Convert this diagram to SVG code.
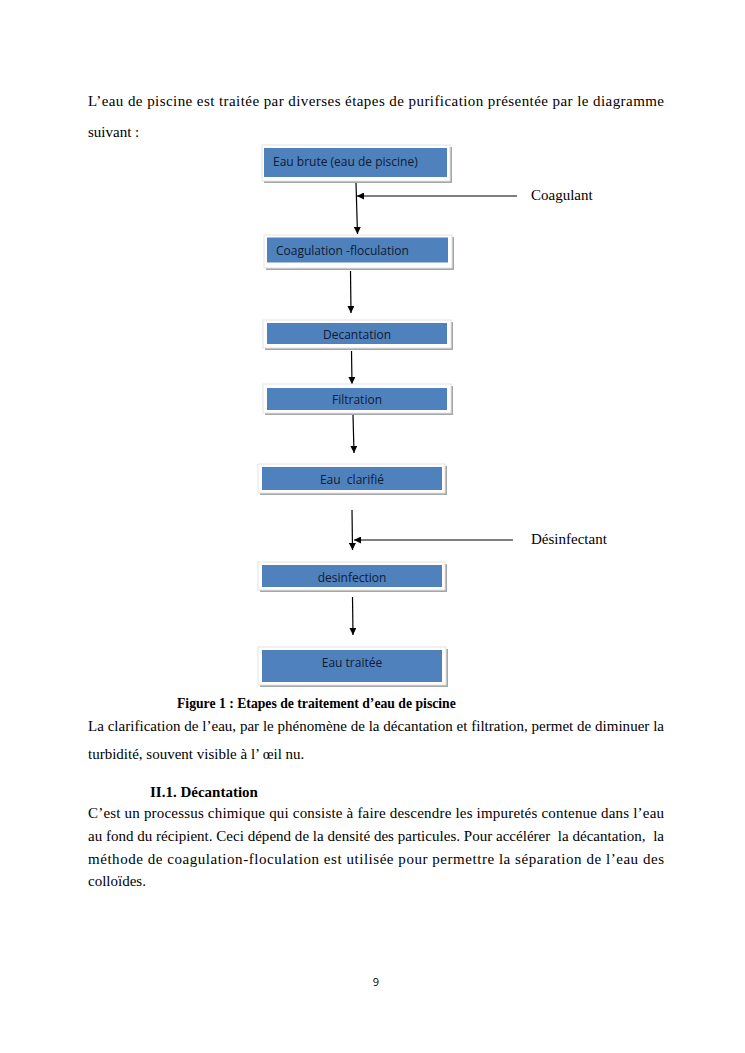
<svg xmlns="http://www.w3.org/2000/svg" width="745" height="1053" viewBox="0 0 745 1053">
<defs>
<marker id="ah" viewBox="0 0 10 10" refX="10" refY="5" markerWidth="7" markerHeight="7" markerUnits="userSpaceOnUse" orient="auto">
<path d="M0,0 L10,5 L0,10 z" fill="#000"/>
</marker>
</defs>
<style>
.body{font-family:"Liberation Serif","Times New Roman",serif;font-size:15px;fill:#000}
.bold{font-weight:bold}
.cap{font-size:13.7px}
.shadow{fill:#a6a6a6}
.frame{fill:#ffffff;stroke:#e3e3e3;stroke-width:1}
.blue{fill:#4f81bd}
.lbl{font-family:"Open Sans","Noto Sans",sans-serif;font-size:12px;fill:#0e1b33}
.conn{stroke:#000;stroke-width:1.2;fill:none;marker-end:url(#ah)}
</style>
<rect width="745" height="1053" fill="#fff"/>

<text class="body" x="88" y="106" textLength="576" lengthAdjust="spacing">L’eau de piscine est traitée par diverses étapes de purification présentée par le diagramme</text>
<text class="body" x="88" y="137">suivant :</text>

<g id="connectors">
<line class="conn" x1="356" y1="183" x2="357.5" y2="234"/>
<line class="conn" x1="517" y1="196" x2="357" y2="196"/>
<line class="conn" x1="350.5" y1="271" x2="351" y2="313"/>
<line class="conn" x1="351.5" y1="351" x2="352" y2="384"/>
<line class="conn" x1="353" y1="415" x2="354" y2="453"/>
<line class="conn" x1="352" y1="510" x2="352.5" y2="550"/>
<line class="conn" x1="513" y1="540" x2="354" y2="540"/>
<line class="conn" x1="352.5" y1="597" x2="353" y2="635"/>
</g>

<g id="n1">
<rect class="shadow" x="264" y="147" width="188" height="36"/>
<rect class="frame" x="262" y="145" width="188" height="36"/>
<rect class="blue" x="264" y="148" width="183" height="29"/>
<text class="lbl" x="273" y="166">Eau brute (eau de piscine)</text>
</g>
<g id="n2">
<rect class="shadow" x="266" y="237" width="188" height="33"/>
<rect class="frame" x="264" y="235" width="188" height="33"/>
<rect class="blue" x="267" y="237.5" width="181" height="25"/>
<text class="lbl" x="276" y="255">Coagulation -floculation</text>
</g>
<g id="n3">
<rect class="shadow" x="265" y="322" width="188" height="28"/>
<rect class="frame" x="263" y="320" width="188" height="28"/>
<rect class="blue" x="267" y="323" width="180" height="21"/>
<text class="lbl" x="357" y="339" text-anchor="middle">Decantation</text>
</g>
<g id="n4">
<rect class="shadow" x="265" y="386" width="188" height="29"/>
<rect class="frame" x="263" y="384" width="188" height="29"/>
<rect class="blue" x="267" y="388" width="180" height="22"/>
<text class="lbl" x="357" y="404" text-anchor="middle">Filtration</text>
</g>
<g id="n5">
<rect class="shadow" x="260" y="466" width="187" height="29"/>
<rect class="frame" x="258" y="464" width="187" height="29"/>
<rect class="blue" x="262" y="467" width="180" height="23"/>
<text class="lbl" x="352" y="484" text-anchor="middle" xml:space="preserve">Eau  clarifié</text>
</g>
<g id="n6">
<rect class="shadow" x="260" y="564" width="187" height="28"/>
<rect class="frame" x="258" y="562" width="187" height="28"/>
<rect class="blue" x="262" y="565" width="180" height="22"/>
<text class="lbl" x="352" y="582" text-anchor="middle">desinfection</text>
</g>
<g id="n7">
<rect class="shadow" x="260" y="649" width="188" height="38"/>
<rect class="frame" x="258" y="647" width="188" height="38"/>
<rect class="blue" x="262" y="650" width="180" height="32"/>
<text class="lbl" x="352" y="667" text-anchor="middle">Eau traitée</text>
</g>

<g id="inputs">
<text class="body" x="531" y="200">Coagulant</text>
<text class="body" x="531" y="544">Désinfectant</text>
</g>

<text class="body bold cap" x="177" y="708">Figure 1 : Etapes de traitement d’eau de piscine</text>
<text class="body" x="88" y="731" textLength="576" lengthAdjust="spacing">La clarification de l’eau, par le phénomène de la décantation et filtration, permet de diminuer la</text>
<text class="body" x="88" y="759">turbidité, souvent visible à l’ œil nu.</text>
<text class="body bold" x="150" y="797">II.1. Décantation</text>
<text class="body" x="88" y="818" textLength="576" lengthAdjust="spacing">C’est un processus chimique qui consiste à faire descendre les impuretés contenue dans l’eau</text>
<text class="body" x="88" y="841" textLength="576" lengthAdjust="spacing" xml:space="preserve">au fond du récipient. Ceci dépend de la densité des particules. Pour accélérer  la décantation,  la</text>
<text class="body" x="88" y="864" textLength="576" lengthAdjust="spacing">méthode de coagulation-floculation est utilisée pour permettre la séparation de l’eau des</text>
<text class="body" x="88" y="886">colloïdes.</text>
<text x="376" y="986" text-anchor="middle" style="font-family:'Open Sans','Noto Sans',sans-serif;font-size:11px;fill:#000">9</text>
</svg>
